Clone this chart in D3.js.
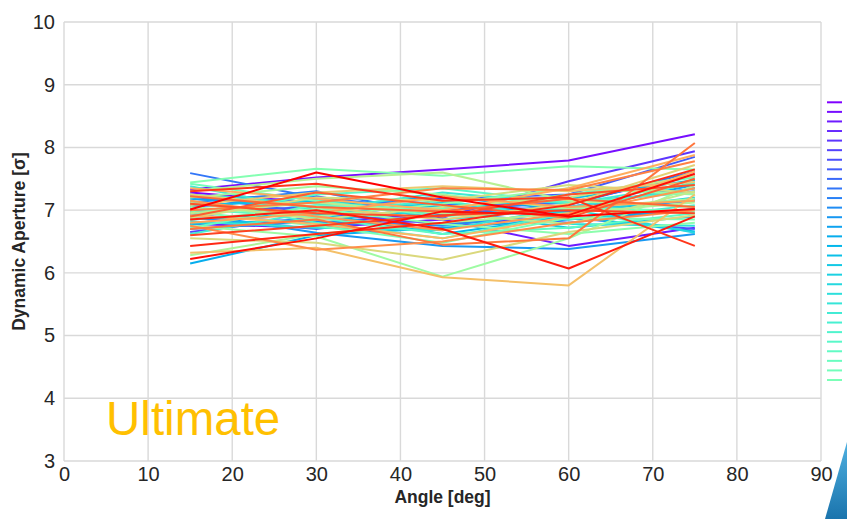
<!DOCTYPE html>
<html>
<head>
<meta charset="utf-8">
<script src="https://cdn.jsdelivr.net/npm/d3@7"></script>
<style>
  html, body { margin: 0; padding: 0; background: #ffffff; }
  svg { display: block; }
  text { font-family: "Liberation Sans", Arial, sans-serif; }
</style>
</head>
<body>
<svg id="chart" width="847" height="519"></svg>
<script>
// ---------- data ----------
const angles = [15, 30, 45, 60, 75];
const xTicks = [0, 10, 20, 30, 40, 50, 60, 70, 80, 90];
const yTicks = [3, 4, 5, 6, 7, 8, 9, 10];
const seedNames = d3.range(1, 61).map(i => "seed " + i);
// dynamic aperture [sigma] per seed at each angle (15,30,45,60,75 deg)
const seed01 = [7.28, 7.12, 7.05, 7.12, 7.55];
const seed02 = [7.33, 7.52, 7.65, 7.79, 8.21];
const seed03 = [6.78, 6.72, 6.85, 6.43, 6.72];
const seed04 = [6.92, 6.80, 6.95, 7.05, 7.35];
const seed05 = [7.05, 7.22, 6.88, 7.46, 7.94];
const seed06 = [6.65, 6.90, 7.10, 6.98, 7.18];
const seed07 = [7.22, 6.95, 6.78, 6.88, 6.70];
const seed08 = [6.98, 7.05, 7.18, 7.25, 7.85];
const seed09 = [6.88, 6.70, 6.95, 6.80, 7.02];
const seed10 = [7.59, 7.20, 7.00, 7.12, 7.30];
const seed11 = [7.12, 7.30, 6.92, 7.08, 7.62];
const seed12 = [6.70, 6.82, 6.75, 6.98, 7.15];
const seed13 = [6.95, 6.64, 6.43, 6.38, 6.62];
const seed14 = [7.18, 7.05, 7.22, 7.00, 7.40];
const seed15 = [6.15, 6.60, 6.72, 6.85, 7.02];
const seed16 = [6.85, 6.95, 6.62, 6.90, 6.66];
const seed17 = [7.08, 7.15, 7.05, 7.18, 7.48];
const seed18 = [6.78, 6.85, 7.00, 6.72, 6.90];
const seed19 = [7.10, 6.92, 7.12, 6.95, 7.20];
const seed20 = [6.95, 7.18, 6.85, 7.02, 6.64];
const seed21 = [7.25, 7.10, 6.95, 6.78, 6.75];
const seed22 = [6.82, 6.72, 6.68, 7.05, 7.35];
const seed23 = [7.38, 7.00, 7.28, 7.10, 7.42];
const seed24 = [6.62, 6.98, 7.15, 6.85, 7.08];
const seed25 = [7.15, 6.80, 6.55, 6.95, 7.45];
const seed26 = [6.90, 7.25, 7.35, 7.12, 7.28];
const seed27 = [7.02, 6.88, 6.62, 6.72, 6.95];
const seed28 = [6.72, 7.08, 7.02, 7.25, 7.52];
const seed29 = [7.42, 7.15, 6.90, 7.05, 6.98];
const seed30 = [6.98, 6.75, 6.48, 6.88, 6.85];
const seed31 = [7.44, 7.66, 7.55, 7.70, 7.65];
const seed32 = [6.85, 7.02, 6.78, 6.62, 6.80];
const seed33 = [7.05, 6.90, 7.10, 7.35, 7.25];
const seed34 = [6.75, 6.58, 5.94, 6.55, 7.40];
const seed35 = [7.20, 7.38, 7.25, 7.02, 7.18];
const seed36 = [6.28, 6.62, 6.80, 6.95, 7.12];
const seed37 = [7.30, 7.50, 7.60, 7.15, 7.05];
const seed38 = [6.95, 7.12, 6.95, 6.78, 7.30];
const seed39 = [7.12, 6.85, 7.05, 7.20, 7.55];
const seed40 = [6.88, 7.20, 7.15, 7.40, 7.28];
const seed41 = [6.55, 6.48, 6.21, 6.65, 6.92];
const seed42 = [7.25, 7.05, 6.85, 7.10, 7.72];
const seed43 = [7.08, 7.28, 7.38, 7.30, 7.45];
const seed44 = [6.32, 6.40, 5.93, 5.80, 7.25];
const seed45 = [6.92, 6.78, 6.55, 6.90, 7.62];
const seed46 = [7.35, 7.18, 7.00, 7.35, 7.88];
const seed47 = [6.80, 6.95, 7.22, 7.05, 7.15];
const seed48 = [7.15, 6.90, 6.68, 6.95, 7.35];
const seed49 = [6.75, 6.37, 6.50, 6.80, 7.00];
const seed50 = [7.00, 7.12, 7.35, 7.32, 7.78];
const seed51 = [6.70, 6.85, 6.45, 6.55, 8.07];
const seed52 = [7.22, 7.05, 6.98, 7.18, 7.05];
const seed53 = [6.90, 7.28, 7.08, 6.88, 7.50];
const seed54 = [7.10, 6.95, 6.90, 7.25, 7.40];
const seed55 = [6.60, 6.75, 6.92, 7.00, 6.95];
const seed56 = [7.30, 7.42, 7.15, 7.20, 6.43];
const seed57 = [6.43, 6.62, 6.80, 7.08, 7.65];
const seed58 = [6.85, 7.00, 6.70, 6.07, 6.90];
const seed59 = [6.22, 6.55, 6.98, 6.92, 7.58];
const seed60 = [7.01, 7.60, 7.20, 6.90, 7.02];
const seriesValues = [seed01, seed02, seed03, seed04, seed05, seed06, seed07, seed08, seed09, seed10,
  seed11, seed12, seed13, seed14, seed15, seed16, seed17, seed18, seed19, seed20,
  seed21, seed22, seed23, seed24, seed25, seed26, seed27, seed28, seed29, seed30,
  seed31, seed32, seed33, seed34, seed35, seed36, seed37, seed38, seed39, seed40,
  seed41, seed42, seed43, seed44, seed45, seed46, seed47, seed48, seed49, seed50,
  seed51, seed52, seed53, seed54, seed55, seed56, seed57, seed58, seed59, seed60];
const xLabel = "Angle [deg]";
const yLabel = "Dynamic Aperture [σ]";
const tagText = "Ultimate";

// ---------- layout ----------
const W = 847, H = 519;
const m = { left: 64, right: 26, top: 22, bottom: 58 };
const svg = d3.select("#chart");
const x = d3.scaleLinear().domain([0, 90]).range([m.left, W - m.right]);
const y = d3.scaleLinear().domain([3, 10]).range([H - m.bottom, m.top]);

// matplotlib "rainbow" colormap
function rainbow(t) {
  const c = v => Math.max(0, Math.min(1, v));
  const r = c(Math.abs(2 * t - 0.5)), g = c(Math.sin(Math.PI * t)), b = c(Math.cos(Math.PI * t / 2));
  return d3.rgb(r * 255, g * 255, b * 255).formatHex();
}
const color = d3.scaleSequential(rainbow).domain([0, seriesValues.length - 1]);

const gridColor = "#d9d9d9";
const textColor = "#262626";

// grid
svg.append("g").selectAll("line").data(xTicks).join("line")
  .attr("x1", d => x(d)).attr("x2", d => x(d))
  .attr("y1", y(3)).attr("y2", y(10))
  .attr("stroke", gridColor).attr("stroke-width", 1.4);
svg.append("g").selectAll("line").data(yTicks).join("line")
  .attr("x1", x(0)).attr("x2", x(90))
  .attr("y1", d => y(d)).attr("y2", d => y(d))
  .attr("stroke", gridColor).attr("stroke-width", 1.4);

// axes (labels only)
const xAxis = svg.append("g").attr("transform", `translate(0,${y(3)})`)
  .call(d3.axisBottom(x).tickValues(xTicks).tickFormat(d3.format("d")).tickSize(0).tickPadding(6));
xAxis.select(".domain").remove();
xAxis.selectAll("text").attr("font-size", 20).attr("fill", textColor)
  .attr("font-family", "Liberation Sans, Arial, sans-serif");

const yAxis = svg.append("g").attr("transform", `translate(${x(0)},0)`)
  .call(d3.axisLeft(y).tickValues(yTicks).tickFormat(d3.format("d")).tickSize(0).tickPadding(9));
yAxis.select(".domain").remove();
yAxis.selectAll("text").attr("font-size", 20).attr("fill", textColor)
  .attr("font-family", "Liberation Sans, Arial, sans-serif");

// series lines
const line = d3.line().x((d, i) => x(angles[i])).y(d => y(d));
svg.append("g").selectAll("path").data(seriesValues).join("path")
  .attr("d", d => line(d))
  .attr("fill", "none")
  .attr("stroke", (d, i) => color(i))
  .attr("stroke-width", 2)
  .attr("stroke-linejoin", "round");

// axis titles
svg.append("text")
  .attr("x", (x(0) + x(90)) / 2).attr("y", 503)
  .attr("text-anchor", "middle").attr("font-size", 17.5).attr("font-weight", "bold")
  .attr("fill", textColor).text(xLabel);
svg.append("text")
  .attr("transform", `translate(25,${(y(3) + y(10)) / 2}) rotate(-90)`)
  .attr("text-anchor", "middle").attr("font-size", 17.5).attr("font-weight", "bold")
  .attr("fill", textColor).text(yLabel);

// tag
svg.append("text").attr("x", x(5)).attr("y", 435)
  .attr("font-size", 47.5).attr("fill", "#FFC000").text(tagText);

// legend (first column visible, rest clipped off the page)
const perCol = 30;
const ly = d3.scaleLinear().domain([0, perCol - 1]).range([102.3, 380]);
const legend = svg.append("g");
seriesValues.forEach((s, i) => {
  const col = Math.floor(i / perCol), row = i % perCol;
  const lx = 827 + col * 80;
  legend.append("line")
    .attr("x1", lx).attr("x2", lx + 15)
    .attr("y1", ly(row)).attr("y2", ly(row))
    .attr("stroke", color(i)).attr("stroke-width", 2);
});

// decorative corner shape
const defs = svg.append("defs");
const grad = defs.append("linearGradient").attr("id", "cornerGrad")
  .attr("x1", 0).attr("y1", 0).attr("x2", 0).attr("y2", 1);
grad.append("stop").attr("offset", "0%").attr("stop-color", "#4fb0e0");
grad.append("stop").attr("offset", "100%").attr("stop-color", "#1a74ad");
svg.append("path")
  .attr("d", "M847,442 L825,519 L847,519 Z")
  .attr("fill", "url(#cornerGrad)");
</script>
</body>
</html>
